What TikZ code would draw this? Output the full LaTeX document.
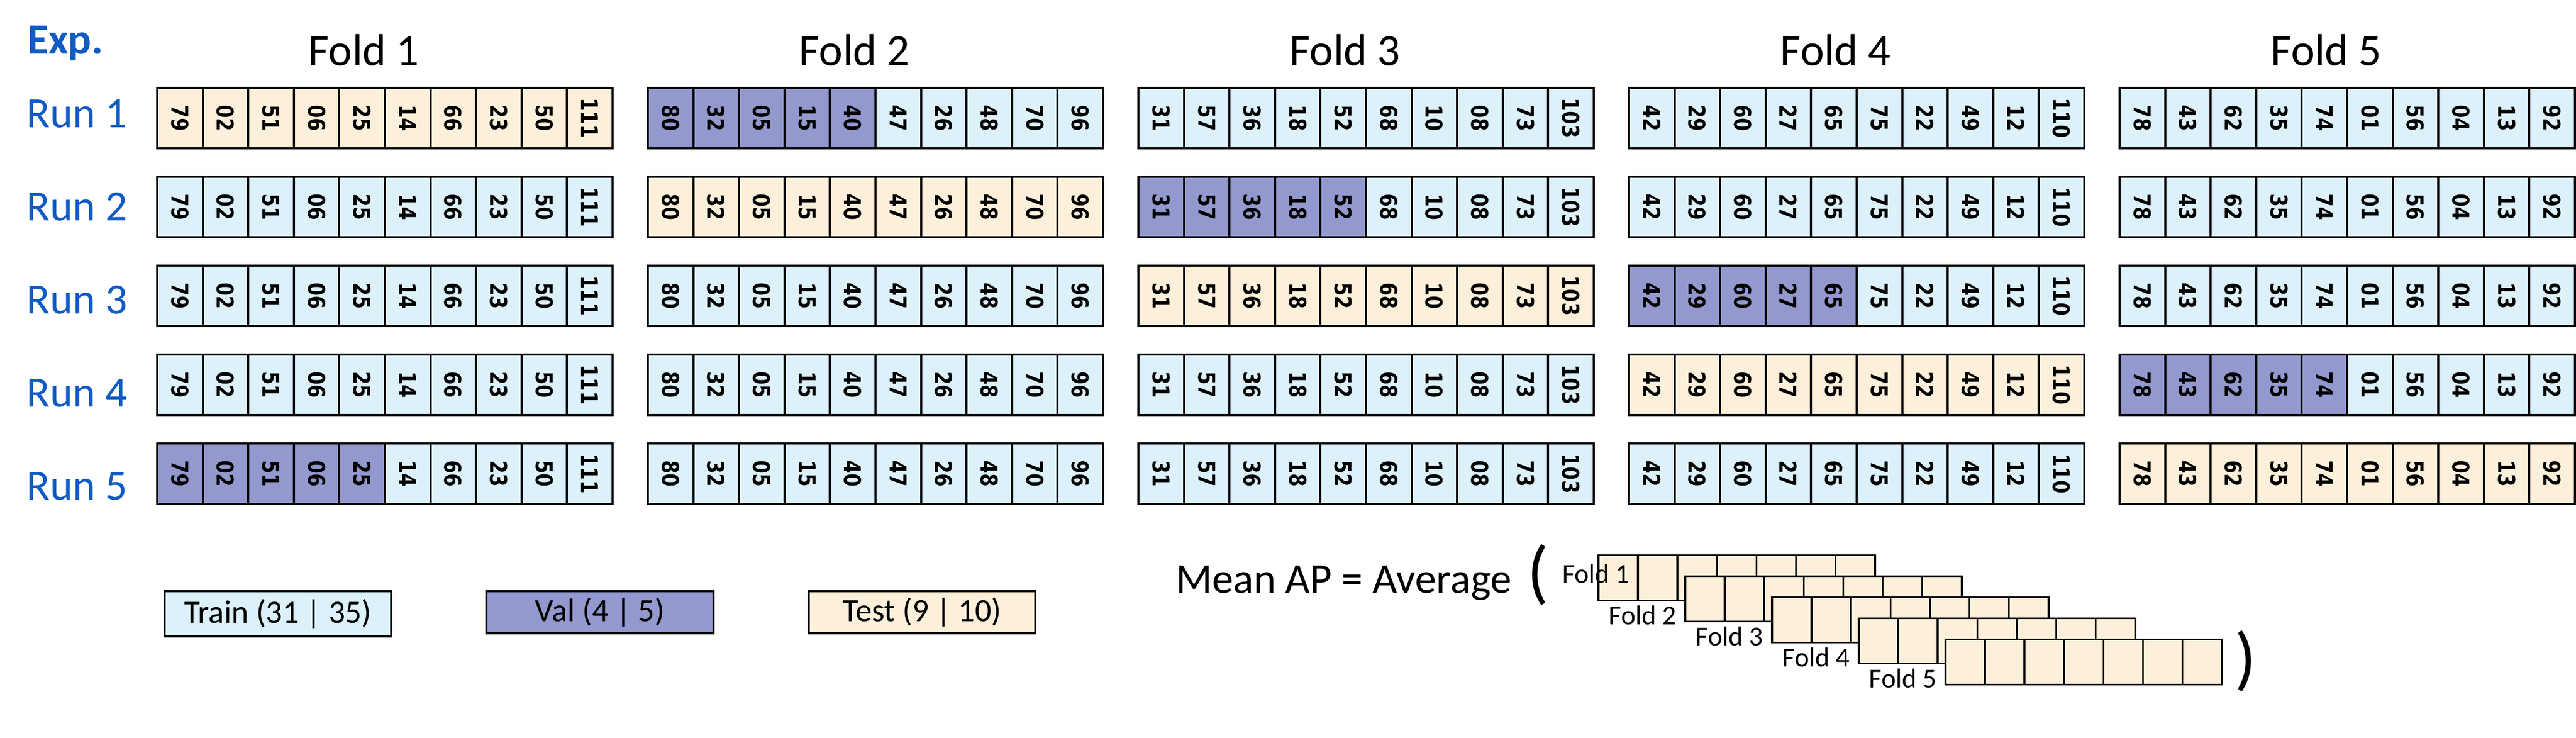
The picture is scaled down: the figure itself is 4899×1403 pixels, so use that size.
\documentclass[tikz,border=0pt]{standalone}
\usepackage{fontspec}
\setmainfont{Carlito}
\newfontfamily\digitfont[FakeStretch=0.82]{DejaVu Sans}
\usepackage{tikz}

\definecolor{trainc}{RGB}{221,241,251}
\definecolor{valc}{RGB}{147,153,206}
\definecolor{testc}{RGB}{253,240,218}
\definecolor{runblue}{RGB}{16,91,196}

\begin{document}
\begin{tikzpicture}[
    x = 0.01cm, y = -0.01cm,
    every node/.style = {inner sep=0pt, outer sep=0pt},
    cell/.style       = {draw, line width=0.04cm, rotate=-90, minimum width=1.15cm, minimum height=0.866cm,
                         font=\digitfont\bfseries\fontsize{12.5pt}{14pt}\selectfont},
    stackcell/.style  = {draw, line width=0.035cm, fill=testc, minimum width=0.751cm, minimum height=0.86cm},
    legbox/.style     = {draw, line width=0.04cm, minimum width=4.31cm, minimum height=0.80cm,
                         font=\fontsize{17.6pt}{20pt}\selectfont},
    foldtitle/.style  = {anchor=base, font=\fontsize{24.3pt}{28pt}\selectfont},
    runlabel/.style   = {anchor=base west, text=runblue, font=\fontsize{23.4pt}{28pt}\selectfont},
    stacklabel/.style = {font=\fontsize{14.8pt}{17pt}\selectfont},
    paren/.style      = {font=\fontsize{38pt}{44pt}\selectfont}
  ]
\useasboundingbox (0,0) rectangle (4899,1403);

\node[runlabel, font=\bfseries\fontsize{23.4pt}{28pt}\selectfont] (exp) at (52,102) {Exp.};
\foreach \r in {1,...,5}
  \node[runlabel] (run\r) at (51,{242+177*(\r-1)}) {Run \r};

% folds, one column of runs each
\foreach \f/\ids in {1/{79,02,51,06,25,14,66,23,50,111},
                     2/{80,32,05,15,40,47,26,48,70,96},
                     3/{31,57,36,18,52,68,10,08,73,103},
                     4/{42,29,60,27,65,75,22,49,12,110},
                     5/{78,43,62,35,74,01,56,04,13,92}} {
  \node[foldtitle] (fold\f) at ({692+933*(\f-1)},124) {Fold \f};
  \foreach \r in {1,...,5} {
    \pgfmathtruncatemacro\nxt{mod(\r,5)+1}
    \foreach \id [count=\k] in \ids {
      \ifnum\f=\r \def\cellfill{testc}\else
        \ifnum\f=\nxt \ifnum\k<6 \def\cellfill{valc}\else\def\cellfill{trainc}\fi
        \else\def\cellfill{trainc}\fi
      \fi
      \node[cell, fill=\cellfill] (r\r-f\f-\k) at ({299+86.6*(\k-0.5)+933*(\f-1)},{224.5+169*(\r-1)}) {\id};
    }
  }
}

% legend
\node[legbox, fill=trainc, minimum height=0.86cm] (train) at (528.5,1167) {Train (31 | 35)};
\node[legbox, fill=valc] (val) at (1141,1164) {Val (4 | 5)};
\node[legbox, fill=testc] (test) at (1753.5,1164) {Test (9 | 10)};

% mean AP over the stacked test folds
\node[anchor=base west, font=\fontsize{23pt}{28pt}\selectfont] (meanap) at (2236,1127) {Mean AP = Average};
\node[paren] (lpar) at (2925,1093) {(};
\foreach \i in {1,...,5} {
  \foreach \k in {1,...,7}
    \node[stackcell] (s\i-\k) at ({3040+75.1*(\k-0.5)+165*(\i-1)},{1098.5+40*(\i-1)}) {};
  \ifnum\i=1
    \node[stacklabel, anchor=base west] (slab\i) at (2971,1108) {Fold \i};
  \else
    \node[stacklabel, anchor=base east] (slab\i) at ({3023+165*(\i-1)},{1147+40*(\i-1)}) {Fold \i};
  \fi
}
\node[paren] (rpar) at (4271,1257) {)};

\end{tikzpicture}
\end{document}
